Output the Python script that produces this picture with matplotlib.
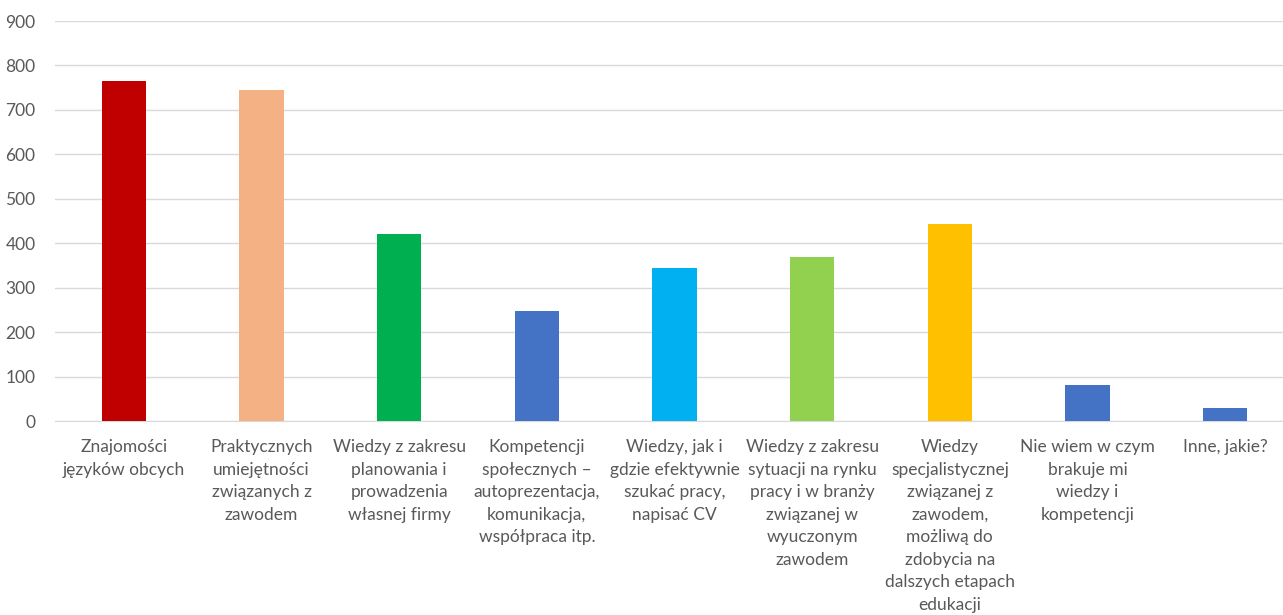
import numpy as np
from matplotlib import pyplot as plt

plt.rcParams['font.family'] = ['Lato', 'DejaVu Sans']

categories = [
    "Znajomości\njęzyków obcych",
    "Praktycznych\numiejętności\nzwiązanych z\nzawodem",
    "Wiedzy z zakresu\nplanowania i\nprowadzenia\nwłasnej firmy",
    "Kompetencji\nspołecznych –\nautoprezentacja,\nkomunikacja,\nwspółpraca itp.",
    "Wiedzy, jak i\ngdzie efektywnie\nszukać pracy,\nnapisać CV",
    "Wiedzy z zakresu\nsytuacji na rynku\npracy i w branży\nzwiązanej w\nwyuczonym\nzawodem",
    "Wiedzy\nspecjalistycznej\nzwiązanej z\nzawodem,\nmożliwą do\nzdobycia na\ndalszych etapach\nedukacji",
    "Nie wiem w czym\nbrakuje mi\nwiedzy i\nkompetencji",
    "Inne, jakie?",
]
values = [765, 745, 421, 248, 344, 368, 443, 80, 29]
colors = ['#C00000', '#F4B183', '#00B050', '#4472C4', '#00B0F0',
          '#92D050', '#FFC000', '#4472C4', '#4472C4']
yticks = [0, 100, 200, 300, 400, 500, 600, 700, 800, 900]

fig = plt.figure(figsize=(12.83, 6.15), dpi=100)
# plot area runs slightly past the right edge of the picture
ax = fig.add_axes([55/1283, 194/615, 1239/1283, 400/615])

x = np.arange(len(categories))
ax.bar(x, values, width=0.32, color=colors, zorder=3)

ax.set_xlim(-0.5, len(categories) - 0.5)
ax.set_ylim(0, 900)
ax.set_yticks(yticks)
ax.set_xticks(x)
ax.set_xticklabels(categories, fontsize=12.5, color='#595959', linespacing=1.5,
                   va='top')
ax.tick_params(axis='y', labelsize=12.5, labelcolor='#595959', length=0, pad=14)
ax.tick_params(axis='x', length=0, pad=13)
ax.grid(axis='y', color='#D9D9D9', linewidth=1, zorder=0)
for s in ['top', 'right', 'left']:
    ax.spines[s].set_visible(False)
ax.spines['bottom'].set_color('#D9D9D9')

fig.savefig('out.png', dpi=100)
